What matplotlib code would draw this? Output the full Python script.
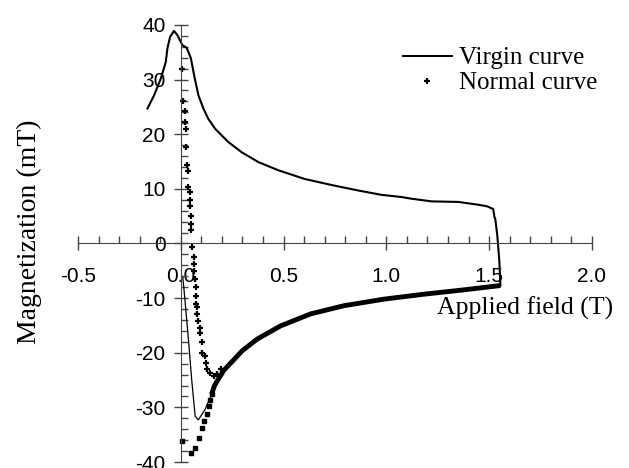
import matplotlib.pyplot as plt
from matplotlib.ticker import MultipleLocator

# virgin curve: upper branch then the drop near 1.55 T
virgin_x = [-0.162, -0.13, -0.097, -0.073, -0.065, -0.052, -0.033, -0.016, 0.008, 0.029,
            0.049, 0.068, 0.086, 0.11, 0.134, 0.167, 0.23, 0.296, 0.377, 0.474,
            0.603, 0.733, 0.862, 0.976, 1.073, 1.12, 1.22, 1.35, 1.445, 1.49,
            1.52, 1.526, 1.53, 1.54, 1.55, 1.555]
virgin_y = [24.7, 27.1, 30.2, 33.2, 35.7, 37.8, 38.9, 38.1, 36.3, 35.8,
            33.9, 30.2, 27.1, 24.7, 22.8, 21.0, 18.6, 16.7, 14.9, 13.4,
            11.8, 10.7, 9.7, 8.9, 8.5, 8.2, 7.7, 7.6, 7.1, 6.8,
            6.3, 4.8, 4.5, 1.4, -3.4, -7.7]

# lower branch (dense points, looks like a thick line)
branch_x = [1.555, 1.375, 1.18, 0.987, 0.793, 0.631, 0.485, 0.372, 0.3, 0.25,
            0.21, 0.18, 0.163, 0.15]
branch_y = [-7.7, -8.5, -9.3, -10.2, -11.4, -12.9, -15.1, -17.5, -19.6, -21.6,
            -23.2, -25.0, -26.1, -27.6]

# thin tail of the virgin curve near zero field
tail_x = [0.15, 0.118, 0.085, 0.07, 0.053, 0.037, 0.02, 0.01]
tail_y = [-27.6, -30.4, -32.3, -31.6, -24.9, -17.5, -10.2, -6.2]

# normal curve points
normal_x = [0.008, 0.013, 0.02, 0.02, 0.025, 0.025, 0.03, 0.033, 0.036, 0.044,
            0.044, 0.044, 0.049, 0.052, 0.052, 0.057, 0.062, 0.065, 0.065, 0.068,
            0.073, 0.073, 0.076, 0.081, 0.081, 0.086, 0.094, 0.094, 0.102, 0.105,
            0.117, 0.121, 0.13, 0.142, 0.162, 0.178, 0.194]
normal_y = [32.0, 26.0, 24.2, 22.3, 20.9, 17.6, 14.4, 13.2, 10.3, 9.5,
            8.0, 6.9, 5.1, 3.6, 2.5, -0.6, -2.5, -3.8, -5.0, -6.5,
            -8.0, -9.6, -11.1, -11.7, -12.9, -14.2, -15.4, -16.3, -18.0, -20.1,
            -20.6, -21.9, -23.0, -23.8, -24.3, -23.9, -23.0]

low_x = [0.008, 0.049, 0.068, 0.089, 0.105, 0.115, 0.126, 0.135, 0.142, 0.152]
low_y = [-36.2, -38.3, -37.4, -35.6, -33.8, -32.5, -31.2, -29.8, -28.6, -27.6]

fig = plt.figure(figsize=(6.29, 4.68), dpi=100)
ax = fig.add_axes([0.124, 0.0128, 0.817, 0.934])

ax.plot(virgin_x, virgin_y, color='black', lw=1.5, label='Virgin curve')
ax.plot(tail_x, tail_y, color='black', lw=0.9)
ax.plot(branch_x, branch_y, color='black', lw=3.5, solid_capstyle='butt')
ax.plot(normal_x, normal_y, ls='none', marker='+', ms=5, mew=1.6, color='black',
        label='Normal curve')
ax.plot(low_x, low_y, ls='none', marker='s', ms=3, color='black')

ax.set_xlim(-0.5, 2.0)
ax.set_ylim(-40, 40)

for s in ['top', 'right']:
    ax.spines[s].set_visible(False)
ax.spines['left'].set_position(('data', 0))
ax.spines['bottom'].set_position(('data', 0))
ax.spines['left'].set_color('#444444')
ax.spines['bottom'].set_color('#444444')

ax.xaxis.set_major_locator(MultipleLocator(0.5))
ax.xaxis.set_minor_locator(MultipleLocator(0.1))
ax.yaxis.set_major_locator(MultipleLocator(10))
ax.yaxis.set_minor_locator(MultipleLocator(2))
ax.tick_params(which='major', direction='inout', length=10, width=1, color='#444444')
ax.tick_params(which='minor', direction='in', length=5, width=1, color='#444444')
ax.tick_params(axis='x', which='major', pad=12)
ax.tick_params(axis='y', which='major', pad=6)
ax.xaxis.set_major_formatter(plt.FuncFormatter(lambda v, p: f'{v:.1f}'))
ax.yaxis.set_major_formatter(plt.FuncFormatter(lambda v, p: f'{v:.0f}'))
for lab in ax.get_xticklabels() + ax.get_yticklabels():
    lab.set_fontfamily('Liberation Sans')
    lab.set_fontsize(15)

ax.set_xlabel('Applied field (T)', family='Liberation Serif', fontsize=18.5)
ax.xaxis.set_label_coords(0.869, 0.352)
ax.xaxis.label.set_va('center')
ax.set_ylabel('Magnetization (mT)', family='Liberation Serif', fontsize=20)
ax.yaxis.set_label_coords(-0.07, 0.526)

ax.legend(loc='upper left', bbox_to_anchor=(0.632, 0.95), frameon=False,
          prop={'family': 'Liberation Serif', 'size': 18}, handlelength=1.95,
          handletextpad=0.3, labelspacing=0.1, borderaxespad=0, borderpad=0)

fig.savefig('out.png', dpi=100)
